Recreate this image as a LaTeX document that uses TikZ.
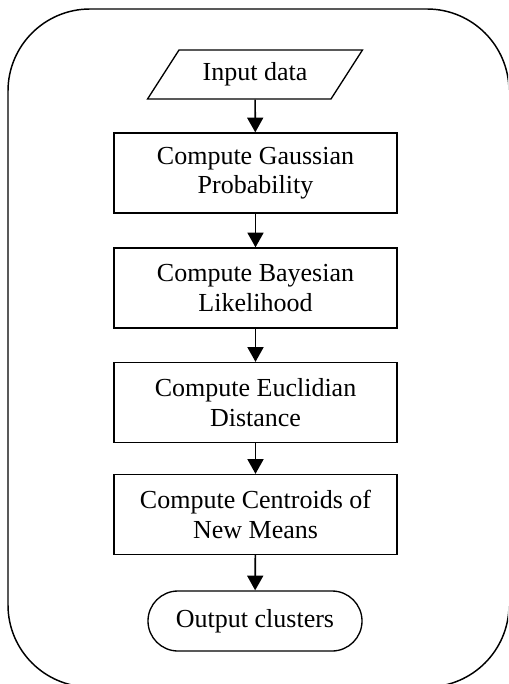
\documentclass[tikz,border=0pt]{standalone}
\usepackage{fontspec}
\setmainfont{Liberation Serif}
\usetikzlibrary{shapes.geometric,arrows.meta}

\tikzset{every picture/.style={line width=0.75pt}}
\tikzset{
  flowtext/.style={font=\fontsize{19.5}{22}\selectfont, align=center, inner sep=0pt},
  procbox/.style={flowtext, draw, line width=1pt, minimum width=212.25pt, minimum height=60pt},
  iobox/.style={flowtext, draw, line width=1pt, trapezium, trapezium left angle=47.4, trapezium right angle=132.6, trapezium stretches=true, minimum width=161.25pt, minimum height=36.75pt},
  endbox/.style={flowtext, draw, line width=1pt, rounded corners=22.5pt, minimum width=160.5pt, minimum height=45pt},
  flowarrow/.style={line width=1.2pt, -{Triangle[width=12pt, length=11pt]}}
}

\begin{document}
\begin{tikzpicture}[x=0.75pt,y=0.75pt,yscale=-1,xscale=1]
\path[use as bounding box, clip] (0,0) rectangle (508,684);

%Shape: Rounded Rect [id:frame]
\draw[line width=1.1pt, rounded corners=61.5pt] (8,9) rectangle (509,687);

%Shape: Parallelogram [id:input]
\node[iobox] (input) at (255,74.5) {Input data};
%Shape: Rectangle [id:gauss]
\node[procbox] (gauss) at (255.5,173) {Compute Gaussian\\Probability};
%Shape: Rectangle [id:bayes]
\node[procbox] (bayes) at (255.5,288) {Compute Bayesian\\Likelihood};
%Shape: Rectangle [id:eucl]
\node[procbox] (eucl) at (255.5,402.5) {Compute Euclidian\\Distance};
%Shape: Rectangle [id:centr]
\node[procbox] (centr) at (255.5,514.5) {Compute Centroids of\\New Means};
%Shape: Terminal [id:output]
\node[endbox] (output) at (255,621) {Output clusters};

%Straight Lines [id:arrows]
\draw[flowarrow] (input) -- (gauss);
\draw[flowarrow] (gauss) -- (bayes);
\draw[flowarrow] (bayes) -- (eucl);
\draw[flowarrow] (eucl) -- (centr);
\draw[flowarrow] (centr) -- (output);

\end{tikzpicture}
\end{document}
